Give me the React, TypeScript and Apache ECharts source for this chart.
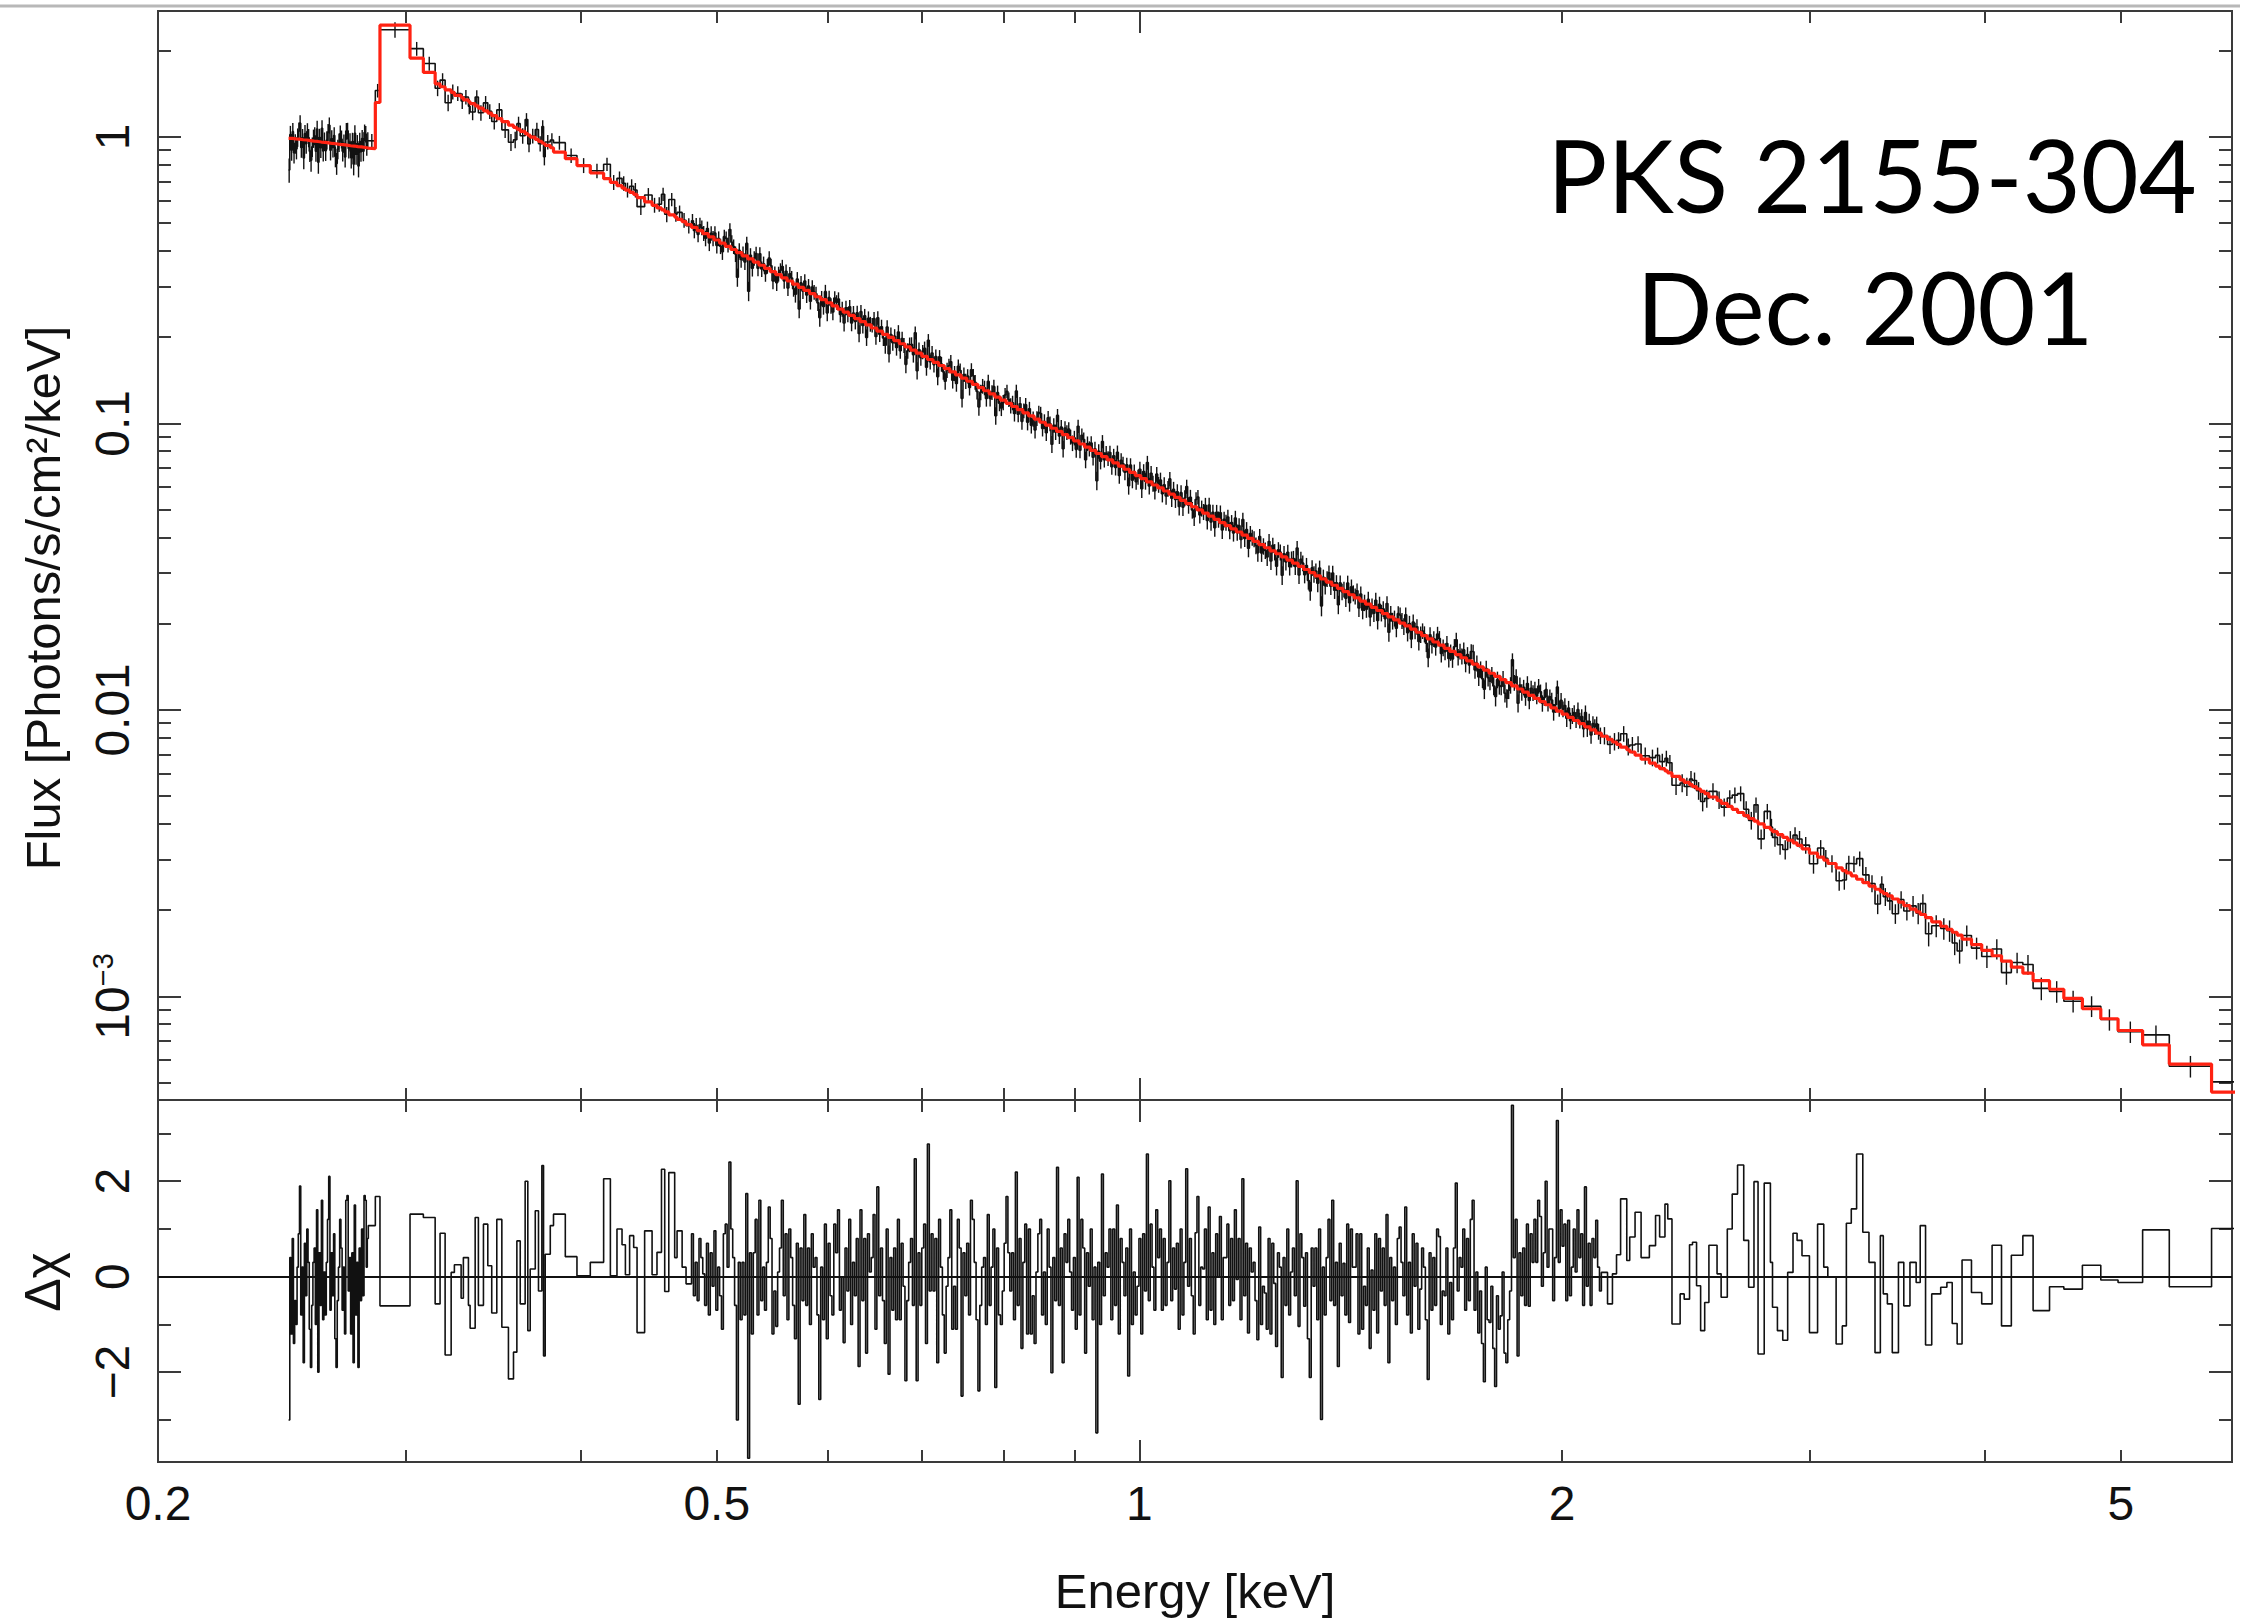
import React, { useEffect, useRef } from "react";
import * as echarts from "echarts";

// ---------------- DATA ----------------
// Energy bin edges, log10(E / keV)
const binEdgesLog10E_lowBand = [
  -0.606, -0.6034, -0.6008, -0.5982, -0.5956, -0.593, -0.5904, -0.5878, -0.5852, -0.5826, -0.58,
  -0.5774, -0.5748, -0.5722, -0.5696, -0.567, -0.5644, -0.5618, -0.5592, -0.5566, -0.554, -0.5514,
];
const binEdgesLog10E_edgeRegion = [
  -0.5492, -0.5442, -0.5409, -0.5195, -0.51, -0.5016, -0.4981, -0.4945, -0.4902, -0.4879, -0.4831,
  -0.4815, -0.4779, -0.4767, -0.4731, -0.4708, -0.4672, -0.4641, -0.4613, -0.4577, -0.4541, -0.4494,
  -0.4458, -0.4434, -0.441, -0.4375, -0.4356, -0.4339, -0.4303, -0.428, -0.4256, -0.4244, -0.4232,
  -0.4196, -0.4173, -0.4089, -0.4006, -0.3911, -0.3816, -0.3768, -0.3721, -0.3685, -0.3661, -0.3631,
  -0.3602, -0.3578, -0.3524, -0.3471, -0.3436, -0.3404, -0.3381, -0.3352, -0.331, -0.3293, -0.3257,
  -0.3229,
];
const binEdgesLog10E_denseA = [
  -0.319, -0.315, -0.311, -0.307, -0.303, -0.299, -0.295, -0.291, -0.287, -0.283, -0.279, -0.275,
  -0.271, -0.267, -0.263, -0.259, -0.255, -0.251, -0.247, -0.243, -0.239, -0.235, -0.231, -0.227,
  -0.223, -0.219, -0.215, -0.211, -0.207, -0.203, -0.199, -0.195, -0.191, -0.187, -0.183, -0.179,
  -0.175, -0.171, -0.167, -0.163, -0.159, -0.155, -0.151, -0.147, -0.143, -0.139, -0.135, -0.131,
  -0.127, -0.123, -0.119, -0.115, -0.111, -0.107, -0.103, -0.099, -0.095, -0.091, -0.087, -0.083,
  -0.079, -0.075, -0.071, -0.067, -0.063, -0.059, -0.055, -0.051, -0.047, -0.043, -0.039, -0.035,
  -0.031, -0.027, -0.023, -0.019, -0.015, -0.011, -0.007, -0.003,
];
const binEdgesLog10E_denseB = [
  0.001, 0.005, 0.009, 0.013, 0.017, 0.021, 0.025, 0.029, 0.033, 0.037, 0.041, 0.045, 0.049, 0.053,
  0.057, 0.061, 0.065, 0.069, 0.073, 0.077, 0.081, 0.085, 0.089, 0.093, 0.097, 0.101, 0.105, 0.109,
  0.113, 0.117, 0.121, 0.125, 0.129, 0.133, 0.137, 0.141, 0.145, 0.149, 0.153, 0.157, 0.161, 0.165,
  0.169, 0.173, 0.177, 0.181, 0.185, 0.189, 0.193, 0.197, 0.201, 0.205, 0.209, 0.213, 0.217, 0.221,
  0.225, 0.229, 0.233, 0.237, 0.241, 0.245, 0.249, 0.253, 0.257, 0.261, 0.265, 0.269, 0.273, 0.277,
  0.281, 0.285, 0.289, 0.293, 0.297, 0.301, 0.305, 0.309, 0.313, 0.317, 0.321, 0.325,
];
const binEdgesLog10E_highBand = [
  0.329, 0.3334, 0.3369, 0.3398, 0.3427, 0.3471, 0.3492, 0.353, 0.3573, 0.3632, 0.3676, 0.3705,
  0.3743, 0.3763, 0.3793, 0.3851, 0.388, 0.3918, 0.3939, 0.3968, 0.3997, 0.4026, 0.4056, 0.4114,
  0.4143, 0.4187, 0.4222, 0.426, 0.4304, 0.4339, 0.4377, 0.4406, 0.445, 0.4494, 0.4509, 0.4544,
  0.4582, 0.4617, 0.4655, 0.4684, 0.4719, 0.4772, 0.483, 0.4874, 0.4903, 0.4962, 0.5006, 0.5035,
  0.507, 0.5108, 0.5152, 0.5196, 0.5239, 0.5277, 0.5298, 0.5327, 0.5362, 0.5406, 0.5444, 0.5488,
  0.5532, 0.5561, 0.5599, 0.5643, 0.5707, 0.5751, 0.5789, 0.5824, 0.5859, 0.5926, 0.5999, 0.6073,
  0.614, 0.621, 0.6292, 0.6365, 0.6482, 0.6584, 0.6716, 0.6847, 0.697, 0.7145, 0.7335, 0.7636, 0.805,
];

// Model (red) log10 flux [photons/s/cm2/keV] per bin
const modelLog10Flux_lowBand = [
  -0.005, -0.007, -0.008, -0.01, -0.011, -0.013, -0.015, -0.016, -0.018, -0.019, -0.021, -0.023,
  -0.024, -0.026, -0.027, -0.029, -0.031, -0.032, -0.034, -0.035, -0.037, -0.039,
];
const modelLog10Flux_edgeRegion = [
  -0.041, 0.12, 0.39, 0.275, 0.225, 0.185, 0.175, 0.164, 0.155, 0.145, 0.137, 0.129, 0.123, 0.116,
  0.108, 0.1, 0.091, 0.083, 0.074, 0.064, 0.053, 0.041, 0.033, 0.027, 0.019, 0.011, 0.006, -0.001,
  -0.009, -0.016, -0.021, -0.024, -0.03, -0.038, -0.053, -0.076, -0.1, -0.126, -0.146, -0.159,
  -0.17, -0.179, -0.186, -0.194, -0.201, -0.212, -0.227, -0.239, -0.248, -0.255, -0.262, -0.272,
  -0.28, -0.288, -0.296, -0.306,
];
const modelLog10Flux_dense = [
  -0.316, -0.327, -0.338, -0.349, -0.36, -0.371, -0.382, -0.393, -0.404, -0.415,
  -0.426, -0.437, -0.448, -0.459, -0.47, -0.481, -0.492, -0.503, -0.514, -0.525,
  -0.536, -0.547, -0.558, -0.568, -0.579, -0.59, -0.601, -0.612, -0.623, -0.634,
  -0.645, -0.656, -0.667, -0.678, -0.689, -0.7, -0.711, -0.722, -0.733, -0.744,
  -0.755, -0.766, -0.777, -0.787, -0.798, -0.809, -0.82, -0.831, -0.842, -0.853,
  -0.864, -0.875, -0.886, -0.897, -0.908, -0.919, -0.93, -0.941, -0.952, -0.963,
  -0.974, -0.985, -0.996, -1.006, -1.017, -1.028, -1.039, -1.05, -1.061, -1.072,
  -1.083, -1.094, -1.105, -1.116, -1.127, -1.138, -1.149, -1.16, -1.171, -1.182,
  -1.193, -1.204, -1.215, -1.225, -1.236, -1.247, -1.258, -1.269, -1.28, -1.291,
  -1.302, -1.313, -1.324, -1.335, -1.346, -1.357, -1.368, -1.379, -1.39, -1.401,
  -1.412, -1.423, -1.434, -1.445, -1.455, -1.466, -1.477, -1.488, -1.499, -1.51,
  -1.521, -1.532, -1.543, -1.554, -1.565, -1.576, -1.587, -1.598, -1.609, -1.62,
  -1.631, -1.642, -1.653, -1.664, -1.675, -1.686, -1.697, -1.707, -1.718, -1.729,
  -1.741, -1.752, -1.763, -1.774, -1.785, -1.796, -1.807, -1.818, -1.829, -1.84,
  -1.85, -1.861, -1.872, -1.883, -1.894, -1.905, -1.916, -1.927, -1.938, -1.949,
  -1.96, -1.971, -1.982, -1.993, -2.004, -2.015, -2.026, -2.037, -2.048, -2.059,
  -2.07, -2.081,
];
const modelLog10Flux_highBand = [
  -2.092, -2.103, -2.112, -2.12, -2.13, -2.139, -2.147, -2.158, -2.172, -2.186, -2.196, -2.205,
  -2.213, -2.22, -2.232, -2.244, -2.253, -2.261, -2.268, -2.276, -2.284, -2.292, -2.304, -2.316,
  -2.326, -2.337, -2.347, -2.358, -2.369, -2.379, -2.388, -2.398, -2.41, -2.418, -2.425, -2.435,
  -2.445, -2.455, -2.464, -2.473, -2.485, -2.5, -2.514, -2.524, -2.536, -2.551, -2.561, -2.569,
  -2.579, -2.591, -2.603, -2.615, -2.626, -2.634, -2.641, -2.649, -2.66, -2.671, -2.683, -2.695,
  -2.705, -2.714, -2.725, -2.74, -2.755, -2.766, -2.776, -2.786, -2.8, -2.819, -2.839, -2.858,
  -2.877, -2.898, -2.919, -2.945, -2.975, -3.007, -3.043, -3.078, -3.119, -3.169, -3.236, -3.334,
];

// Residuals (delta chi). Low band and dense bands: three data channels per model bin.
const deltaChi_lowBand = [
  -3.0, 0.4, -1.2, 0.8, -1.4, -0.5, -1.0, 0.2, 0.9, 1.9, -0.8, 0.2, -1.8, 0.7, -0.4,
  1.0, 0.3, -1.1, -1.9, -0.6, 0.3, 0.6, -1.0, 1.4, -2.0, 0.5, -0.6, 1.6, -0.9, 0.1,
  -0.8, 0.3, 1.2, 2.1, -0.7, 0.5, -0.4, 0.9, -1.3, -1.9, -0.5, 0.2, 1.2, 0.6, -0.7,
  0.2, -1.2, 1.6, 1.7, -0.3, 0.4, -1.2, 0.5, -1.8, 1.5, -0.8, 0.3, -1.9, 0.6, -0.5,
  1.0, -0.4, 1.7, 1.6, 0.2, 0.8,
];
const deltaChi_edgeRegion = [
  1.07, 1.68, -0.61, 1.31, 1.24, -0.57, 0.91, -1.64, 0.09, 0.25, -0.45, 0.4, -0.6, -1.08, 1.24,
  -0.6, 1.1, 0.23, -0.76, 1.2, -1.06, -2.14, -1.58, 0.75, -0.57, 2.0, -1.13, 0.16, 1.38, -0.3, 2.33,
  -1.66, 0.47, 1.07, 1.31, 0.42, 0.02, 0.3, 2.05, 0.02, 1.0, 0.67, 0.04, 0.86, 0.61, -1.17, 0.96,
  0.04, 0.51, 2.25, -0.31, 2.18, 0.4, 0.96, 0.2, -0.15,
];
const deltaChi_denseA = [
  0.9, -0.4, 0.3, -0.5, 0.8, 0.4, 0.06, -0.6, 0.7, -0.8, 0.5, -0.2, 0.96, -0.7, 0.2,
  -0.4, -1.1, 0.9, 1.1, 0.2, 2.4, 1.0, 0.4, -0.6, -3.0, 0.3, -0.9, 0.3, -0.8, 1.74,
  -3.8, 0.5, -1.2, 0.5, 1.2, -0.8, 1.6, -0.5, 0.2, -0.7, 0.3, 1.46, 0.8, -1.2, -0.3,
  -1.04, 0.1, 0.6, 1.6, -0.4, 0.9, -0.9, 1.0, 0.4, -0.6, -1.3, 0.7, -2.67, 0.6, -0.5,
  1.3, -0.6, 0.6, -1.0, 0.9, 0.2, 0.4, -0.8, -2.57, 0.2, -0.9, 1.1, -1.3, 0.7, -0.4,
  -0.8, 1.1, 0.5, 1.4, -0.7, 0.0, -1.38, 0.6, -0.3, 1.2, -1.0, 0.3, -0.4, 0.8, -1.88,
  1.4, -0.5, 0.8, -1.6, 0.9, 0.1, 0.4, 1.3, -1.1, 1.88, -0.4, 0.6, -0.5, -1.4, 1.0,
  -2.04, 0.4, -0.7, 0.6, -0.9, 1.2, -0.9, 0.7, -0.2, -2.18, -0.5, 0.3, 0.8, -0.6, 2.47,
  -2.18, 0.5, -0.6, 0.6, 1.1, -1.4, 2.78, -0.3, 0.9, -0.3, 0.8, -1.8, 1.2, 0.2, -0.8,
  -1.6, -0.2, 0.4, 1.4, -1.1, -0.2, -1.1, 1.2, 0.6, -2.5, 0.5, -0.4, 0.7, -0.8, 1.6,
  1.2, 0.3, -0.9, -2.39, -0.6, 0.2, 0.4, -1.0, 1.3, -0.6, 0.2, 1.0, -2.32, 0.6, -0.8,
  -1.0, -0.3, 0.7, 1.68, 0.5, -0.3, 0.5, -0.9, 2.19, -0.6, 0.8, -1.5, 0.3, 1.1, -1.2,
  1.0, -1.2, -0.4, -1.4, 0.1, 0.9, 1.2, -0.8, 0.1, -1.0, 1.0, 0.2, -2.01, 0.4, -0.5,
  2.29, -0.6, 0.6, -1.8, 0.9, 0.3, 1.2, 0.1, -0.7, 0.4, -1.1, 2.08, -0.8, 1.2, 0.6,
  -1.6, 0.5, -0.2, 1.0, -0.9, 0.2, -3.27, 0.3, -1.0, 2.15, -0.4, 0.5, 0.2, 1.0, -0.9,
  1.0, -0.6, 1.5, -1.2, 0.8, 0.3, -0.4, 0.6, -2.08, 1.0, -1.0, 0.1, -0.8, -0.2, 0.8,
  -1.2, 0.9, -0.3, 2.57, -0.5, 1.1, 0.2, -0.7, 1.4, 0.4, 1.0, -0.7, 0.8, -0.6, 0.3,
];
const deltaChi_denseB = [
  2.01, -0.5, 0.6, -0.26, 0.7, -1.1, 1.0, -0.8, 0.3, 2.26, -0.2, 0.8, -0.4, -1.2, 0.92,
  1.68, -0.6, 0.2, 0.16, 1.0, -0.9, 1.46, -0.7, 0.5, -1.0, 0.9, 0.0, 1.26, -0.9, 0.4,
  0.4, 1.1, -0.6, 0.8, -0.5, 1.4, -0.06, 0.8, -0.9, 2.05, -0.4, 0.7, -1.18, 0.6, 0.1,
  0.3, -0.5, -1.32, 1.04, -1.0, -0.2, -0.34, -1.1, 0.8, -1.2, 0.7, -0.14, -1.46, 0.5, 0.2,
  -2.11, 0.4, -0.6, 1.0, -0.8, 0.1, 0.6, -0.4, 2.01, -1.04, 0.9, 0.4, -0.62, 0.5, -1.3,
  -2.11, 0.6, -0.2, 0.6, -0.9, 1.0, -2.99, 0.2, -0.8, 0.4, 1.2, -0.5, 1.6, -0.6, 0.3,
  -1.88, 0.7, -0.4, 0.28, -0.8, 1.1, -0.96, 1.0, 0.2, 0.2, 0.9, -1.2, 0.9, -1.1, -0.2,
  -0.6, 0.6, -1.5, 0.14, -0.7, 0.9, -1.18, 0.8, -0.3, 0.6, -0.6, 1.3, -1.8, 0.4, -0.5,
  0.2, -1.0, 0.8, 1.04, 0.3, -0.4, 1.46, -0.8, 0.3, -1.18, 0.9, -0.2, 0.7, -1.1, -0.26,
  0.6, 0.2, -0.9, -2.15, 0.5, -0.7, 0.4, -0.6, 1.0, 0.84, -1.0, -0.3, -0.4, 0.6, -1.2,
  -0.12, -0.9, 0.6, 1.96, -0.3, 0.4, 0.2, 1.0, -0.7, 0.8, -0.5, 1.2, 1.6, -0.7, 0.1,
  -1.18, -0.3, -1.4, -2.2, 0.2, -0.9, -0.96, -0.2, -1.5, -2.3, -0.4, -1.1, -0.82, 0.1, -1.6,
  -1.8, -0.9, -0.3, 3.59, 0.4, 1.2, -1.66, 0.5, -0.4, 0.6, -0.6, 1.1, -0.62, 0.9, 0.3,
  1.2, 0.3, 1.6, 1.26, -0.2, 0.5, 2.0, 0.2, 1.0, 1.0, -0.5, 0.4, 3.27, 0.3, 1.4,
  0.64, 1.1, -0.5, 1.18, -0.4, 0.2, 1.0, 0.1, 1.4, 0.4, 0.9, -0.6, 1.88, -0.2, 0.7,
  -0.6, 0.8, 0.4, 1.18, 0.2, -0.3,
];
const deltaChi_highBand = [
  0.09, -0.57, 0.06, 0.46, 1.63, 0.34, 0.83, 1.35, 0.4, 0.65, 1.28, 0.83, 1.52, 1.21, -0.99, -0.36,
  -0.47, 0.67, 0.72, -0.19, -1.13, -0.54, 0.66, 0.06, -0.43, 1.0, 1.73, 2.34, 0.76, -0.22, 1.99,
  -1.62, 1.96, 0.3, -0.64, -1.13, -1.33, 0.09, 0.91, 0.76, 0.44, -1.17, 1.1, 0.2, -0.01, -1.41,
  -1.03, 1.12, 1.42, 2.57, 0.93, 0.3, -1.59, 0.86, -0.36, -0.57, -1.59, 0.3, -0.61, 0.3, -0.12,
  1.07, -1.43, -0.36, -0.22, -0.12, -0.98, -1.41, 0.35, -0.33, -0.57, 0.66, -1.03, 0.45, 0.86,
  -0.71, -0.21, -0.26, 0.24, -0.07, -0.12, 0.98, -0.21, 1.01,
];

// Fractional 1-sigma flux error per data channel, by energy band
const errBandEdgesLog10E = [-0.61, -0.549, -0.319, 0.0, 0.33, 0.55, 0.81];
const errBandFraction = [0.075, 0.06, 0.06, 0.065, 0.07, 0.085];

// Axis ticks and labels
const energyTickMajor = [1];
const energyTickMinor = [0.3, 0.4, 0.5, 0.6, 0.7, 0.8, 0.9, 2, 3, 4, 5];
const energyLabels = [0.2, 0.5, 1, 2, 5];
const fluxTickMajor = [0.001, 0.01, 0.1, 1];
const fluxTickMinor = [
  0.0005, 0.0006, 0.0007, 0.0008, 0.0009,
  0.002, 0.003, 0.004, 0.005, 0.006, 0.007, 0.008, 0.009,
  0.02, 0.03, 0.04, 0.05, 0.06, 0.07, 0.08, 0.09,
  0.2, 0.3, 0.4, 0.5, 0.6, 0.7, 0.8, 0.9, 2,
];
const residTickMajor = [-2, 0, 2];
const residTickMinor = [-3, -1, 1, 3];

const sourceName = "PKS 2155-304";
const epochLabel = "Dec. 2001";

// ---------------- CHART ----------------
const AX = "#3a3a3a";
const INK = "#111111";
const FONT = '"Liberation Sans", Arial, Helvetica, sans-serif';

function fracAt(logE: number) {
  for (let j = 0; j < errBandFraction.length; j++) {
    if (logE < errBandEdgesLog10E[j + 1]) return errBandFraction[j];
  }
  return errBandFraction[errBandFraction.length - 1];
}

function errRender(color: string, width: number) {
  return (params: any, api: any) => {
    const p1 = api.coord([api.value(0), api.value(2)]);
    const p2 = api.coord([api.value(0), api.value(3)]);
    return {
      type: "line",
      shape: { x1: p1[0], y1: p1[1], x2: p2[0], y2: p2[1] },
      style: { stroke: color, lineWidth: width },
    };
  };
}

function tickAxis(base: any, ticks: number[], len: number, extra: any = {}) {
  return {
    ...base,
    axisLine: { show: true, onZero: false, lineStyle: { color: AX, width: 2 } },
    axisTick: { show: true, inside: true, length: len, customValues: ticks, lineStyle: { color: AX, width: 2 } },
    axisLabel: { show: false },
    splitLine: { show: false },
    minorTick: { show: false },
    ...extra,
  };
}

function fluxLabel(v: number) {
  const e = Math.round(Math.log10(v));
  if (e === -3) return "{base|10}{sup|−3}";
  if (e === 0) return "{base|1}";
  if (e === -1) return "{base|0.1}";
  if (e === -2) return "{base|0.01}";
  return "{base|" + v + "}";
}

function groupBy(values: number[], size: number) {
  const out: number[][] = [];
  for (let i = 0; i < values.length; i += size) out.push(values.slice(i, i + size));
  return out;
}

function buildOption() {
  const edgesLog = [
    ...binEdgesLog10E_lowBand,
    ...binEdgesLog10E_edgeRegion,
    ...binEdgesLog10E_denseA,
    ...binEdgesLog10E_denseB,
    ...binEdgesLog10E_highBand,
  ];
  const modelLog = [
    ...modelLog10Flux_lowBand,
    ...modelLog10Flux_edgeRegion,
    ...modelLog10Flux_dense,
    ...modelLog10Flux_highBand,
  ];
  // data channels belonging to each model bin
  const channels: number[][] = [
    ...groupBy(deltaChi_lowBand, 3),
    ...groupBy(deltaChi_edgeRegion, 1),
    ...groupBy(deltaChi_denseA, 3),
    ...groupBy(deltaChi_denseB, 3),
    ...groupBy(deltaChi_highBand, 1),
  ];
  const n = Math.min(modelLog.length, channels.length, edgesLog.length - 1);
  const dataStep: number[][] = [];
  const modelStep: number[][] = [];
  const residStep: number[][] = [];
  const dataErr: number[][] = [];
  let last: { hi: number; dat: number; r: number } | null = null;
  for (let i = 0; i < n; i++) {
    const mod = Math.pow(10, modelLog[i]);
    modelStep.push([Math.pow(10, edgesLog[i]), mod]);
    const grp = channels[i];
    const m = grp.length;
    for (let s = 0; s < m; s++) {
      const loLog = edgesLog[i] + ((edgesLog[i + 1] - edgesLog[i]) * s) / m;
      const hiLog = edgesLog[i] + ((edgesLog[i + 1] - edgesLog[i]) * (s + 1)) / m;
      const cLog = (loLog + hiLog) / 2;
      const sig = fracAt(cLog) * mod;
      const r = grp[s];
      const dat = mod + r * sig;
      dataStep.push([Math.pow(10, loLog), dat]);
      residStep.push([Math.pow(10, loLog), r]);
      dataErr.push([Math.pow(10, cLog), dat, dat - sig, dat + sig]);
      last = { hi: Math.pow(10, hiLog), dat, r };
    }
    if (i === n - 1) modelStep.push([Math.pow(10, edgesLog[i + 1]), mod]);
  }
  if (last) {
    dataStep.push([last.hi, last.dat]);
    residStep.push([last.hi, last.r]);
  }

  const eBase = (grid: number, position: string) => ({
    type: "log", logBase: 10, gridIndex: grid, position, min: 0.19999, max: 6.0001,
  });
  const fBase = (position: string) => ({
    type: "log", logBase: 10, gridIndex: 0, position, min: 0.000435, max: 2.75,
  });
  const rBase = (position: string) => ({
    type: "value", gridIndex: 1, position, min: -3.88, max: 3.7,
  });

  const labelStyle = { fontFamily: FONT, fontSize: 48, color: INK };

  return {
    animation: false,
    backgroundColor: "#ffffff",
    grid: [
      { left: 158, top: 11, width: 2074, height: 1089, containLabel: false },
      { left: 158, top: 1100, width: 2074, height: 362, containLabel: false },
    ],
    xAxis: [
      tickAxis(eBase(0, "bottom"), energyTickMajor, 22),
      tickAxis(eBase(0, "bottom"), energyTickMinor, 12),
      tickAxis(eBase(0, "top"), energyTickMajor, 22),
      tickAxis(eBase(0, "top"), energyTickMinor, 12),
      tickAxis(eBase(1, "bottom"), energyTickMajor, 22, {
        axisLabel: {
          show: true,
          customValues: energyLabels,
          margin: 17,
          ...labelStyle,
          formatter: (v: number) => String(Number(Number(v).toPrecision(3))),
        },
        name: "Energy [keV]",
        nameLocation: "middle",
        nameGap: 104,
        nameTextStyle: { fontFamily: FONT, fontSize: 49, color: INK },
      }),
      tickAxis(eBase(1, "bottom"), energyTickMinor, 12),
      tickAxis(eBase(1, "top"), energyTickMajor, 22),
      tickAxis(eBase(1, "top"), energyTickMinor, 12),
    ],
    yAxis: [
      tickAxis(fBase("left"), fluxTickMajor, 23, {
        axisLabel: {
          show: true,
          customValues: fluxTickMajor,
          rotate: 90,
          margin: 22,
          ...labelStyle,
          formatter: (v: number) => fluxLabel(v),
          rich: {
            base: { fontFamily: FONT, fontSize: 48, color: INK },
            sup: { fontFamily: FONT, fontSize: 29, color: INK, verticalAlign: "top" },
          },
        },
      }),
      tickAxis(fBase("left"), fluxTickMinor, 13),
      tickAxis(fBase("right"), fluxTickMajor, 23),
      tickAxis(fBase("right"), fluxTickMinor, 13),
      tickAxis(rBase("left"), residTickMajor, 23, {
        axisLabel: {
          show: true,
          customValues: residTickMajor,
          rotate: 90,
          margin: 22,
          ...labelStyle,
          formatter: (v: number) => (v < 0 ? "−" + Math.abs(v) : String(v)),
        },
      }),
      tickAxis(rBase("left"), residTickMinor, 13),
      tickAxis(rBase("right"), residTickMajor, 23),
      tickAxis(rBase("right"), residTickMinor, 13),
    ],
    series: [
      {
        type: "line", name: "data", xAxisIndex: 0, yAxisIndex: 0, data: dataStep, step: "end",
        symbol: "none", showSymbol: false, lineStyle: { color: INK, width: 1.6 }, z: 2, silent: true,
      },
      {
        type: "custom", name: "data errors", xAxisIndex: 0, yAxisIndex: 0, data: dataErr,
        renderItem: errRender(INK, 1.4), encode: { x: 0, y: 1 }, clip: true, z: 2, silent: true,
      },
      {
        type: "line", name: "model", xAxisIndex: 0, yAxisIndex: 0, data: modelStep, step: "end",
        symbol: "none", showSymbol: false, lineStyle: { color: "#ff2212", width: 3.2 }, z: 3, silent: true,
      },
      {
        type: "line", name: "residuals", xAxisIndex: 4, yAxisIndex: 4, data: residStep, step: "end",
        symbol: "none", showSymbol: false, lineStyle: { color: INK, width: 1.6 }, z: 2, silent: true,
        markLine: {
          silent: true, symbol: "none", label: { show: false },
          lineStyle: { color: INK, width: 2, type: "solid" },
          data: [{ yAxis: 0 }],
        },
      },
    ],
    graphic: [
      {
        type: "line", silent: true,
        shape: { x1: 0, y1: 6, x2: 2240, y2: 6 },
        style: { stroke: "#b8b8b8", lineWidth: 3 },
      },
      {
        type: "text", silent: true, x: 43, y: 598, rotation: Math.PI / 2,
        style: { text: "Flux [Photons/s/cm²/keV]", font: '49px "Liberation Sans", Arial, sans-serif', fill: INK, align: "center", verticalAlign: "middle" },
      },
      {
        type: "text", silent: true, x: 43, y: 1282, rotation: Math.PI / 2,
        style: { text: "Δχ", font: '50px "Liberation Sans", Arial, sans-serif', fill: INK, align: "center", verticalAlign: "middle" },
      },
      {
        type: "text", silent: true, x: 1872, y: 174,
        style: { text: sourceName, font: '100px Lato, "Open Sans", sans-serif', fill: "#000", align: "center", verticalAlign: "middle" },
      },
      {
        type: "text", silent: true, x: 1865, y: 306,
        style: { text: epochLabel, font: '100px Lato, "Open Sans", sans-serif', fill: "#000", align: "center", verticalAlign: "middle" },
      },
    ],
  };
}

export default function App() {
  const ref = useRef<HTMLDivElement>(null);
  useEffect(() => {
    if (!ref.current) return;
    const chart = echarts.init(ref.current, null, { renderer: "svg" });
    chart.setOption(buildOption() as any);
    return () => chart.dispose();
  }, []);
  return (
    <div
      ref={ref}
      style={{ position: "absolute", left: 0, top: 0, width: 2250, height: 1619, background: "#fff" }}
    />
  );
}
